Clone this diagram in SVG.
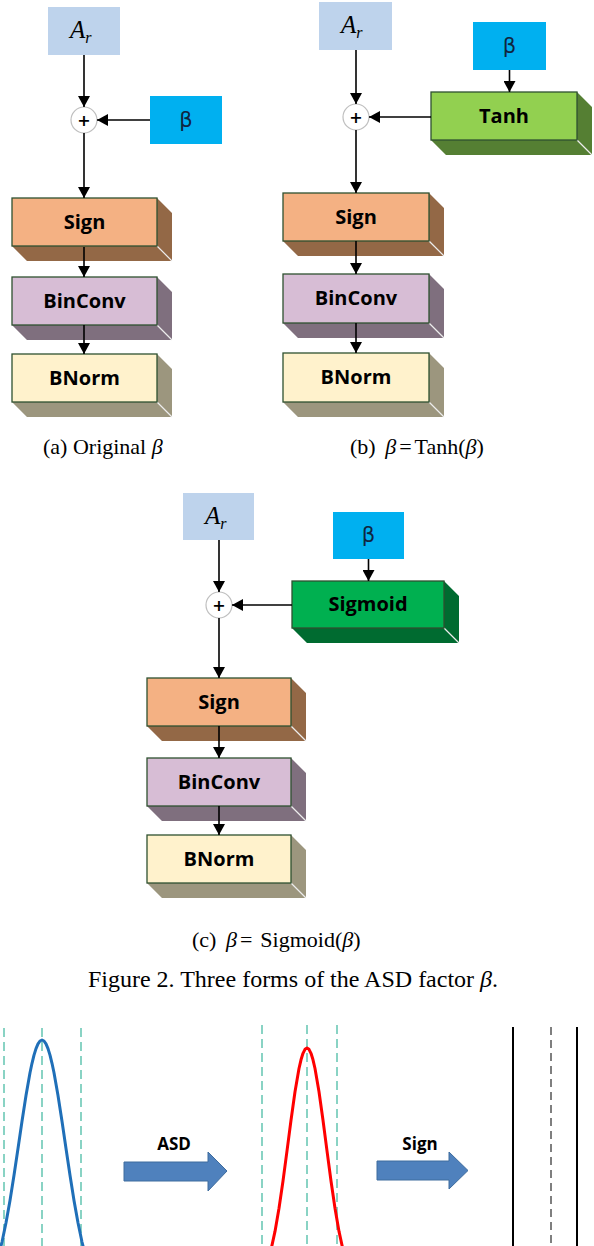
<svg xmlns="http://www.w3.org/2000/svg" width="594" height="1246" viewBox="0 0 594 1246">
<defs>
<style>
.face{stroke:#2F5130;stroke-width:1.3}
.hl{stroke:#EDEDED;stroke-width:1.2}
.sign-f{fill:#F4B183}.sign-s{fill:#936846}
.bin-f{fill:#D7BDD5}.bin-s{fill:#7F6F7E}
.bn-f{fill:#FFF2CC}.bn-s{fill:#9C967E}
.tanh-f{fill:#92D050}.tanh-s{fill:#557F33}
.sig-f{fill:#00B050}.sig-s{fill:#006B30}
.ar{fill:#BED3EC}
.beta{fill:#00B0F0}
.lbl{font-family:"Open Sans","Noto Sans",sans-serif;font-weight:700;font-size:20px;fill:#000;text-anchor:middle}
.bt{font-family:"DejaVu Sans","Noto Sans",sans-serif;font-size:21px;fill:#10253F;text-anchor:middle}
.ai{font-family:"Liberation Serif",serif;font-style:italic;fill:#000}
.sum circle{fill:#fff;stroke:#BFBFBF;stroke-width:1.2}
.plus{font-family:"DejaVu Sans",sans-serif;font-weight:700;font-size:16px;text-anchor:middle;fill:#000}
.cap{font-family:"Liberation Serif",serif;fill:#000}
.conn line{stroke:#000;stroke-width:1.6;marker-end:url(#ah)}
.dash{stroke:#7DCFBE;stroke-width:1.8;stroke-dasharray:9 5;fill:none}
.barrow{fill:#4F81BD;stroke:#3E6C9E;stroke-width:1}
.al{font-family:"Open Sans","Noto Sans",sans-serif;font-weight:700;font-size:17px;text-anchor:middle;fill:#000}
</style>
<marker id="ah" markerWidth="11" markerHeight="12" refX="11" refY="6" orient="auto" markerUnits="userSpaceOnUse">
<path d="M0,0 L11,6 L0,12 Z" fill="#000"/>
</marker>
</defs>

<!-- Panel (a) -->
<g id="a-Ar"><rect class="ar" x="48" y="7" width="72" height="48"/><text class="ai" x="70" y="38" font-size="25">A<tspan font-size="16" dy="5">r</tspan></text></g>
<g id="a-sum" class="sum"><circle cx="84" cy="120" r="13"/><text class="plus" x="84" y="126">+</text></g>
<g id="a-beta"><rect class="beta" x="150" y="96" width="72" height="48"/><text class="bt" x="186" y="127">β</text></g>
<g id="a-sign" transform="translate(12,198)"><polygon class="sign-s" points="0,48 145,48 145,0 160,15 160,63 15,63"/><line class="hl" x1="145" y1="48" x2="160" y2="63"/><rect class="sign-f face" width="145" height="48"/><text class="lbl" x="72.5" y="31">Sign</text></g>
<g id="a-binconv" transform="translate(12,277)"><polygon class="bin-s" points="0,48 145,48 145,0 160,15 160,63 15,63"/><line class="hl" x1="145" y1="48" x2="160" y2="63"/><rect class="bin-f face" width="145" height="48"/><text class="lbl" x="72.5" y="31">BinConv</text></g>
<g id="a-bnorm" transform="translate(12,354)"><polygon class="bn-s" points="0,48 145,48 145,0 160,15 160,63 15,63"/><line class="hl" x1="145" y1="48" x2="160" y2="63"/><rect class="bn-f face" width="145" height="48"/><text class="lbl" x="72.5" y="31">BNorm</text></g>
<g id="cap-a"><text class="cap" x="43" y="454" style="font-size:22px">(a) Original <tspan font-style="italic">β</tspan></text></g>

<!-- Panel (b) -->
<g id="b-Ar"><rect class="ar" x="319" y="2" width="73" height="48"/><text class="ai" x="341" y="33" font-size="25">A<tspan font-size="16" dy="5">r</tspan></text></g>
<g id="b-sum" class="sum"><circle cx="356" cy="117" r="13"/><text class="plus" x="356" y="123">+</text></g>
<g id="b-beta"><rect class="beta" x="473" y="22" width="73" height="48"/><text class="bt" x="509.5" y="53">β</text></g>
<g id="b-tanh" transform="translate(431,92)"><polygon class="tanh-s" points="0,48 146,48 146,0 161,15 161,63 15,63"/><line class="hl" x1="146" y1="48" x2="161" y2="63"/><rect class="tanh-f face" width="146" height="48"/><text class="lbl" x="73" y="31">Tanh</text></g>
<g id="b-sign" transform="translate(283,193)"><polygon class="sign-s" points="0,48 146,48 146,0 161,15 161,63 15,63"/><line class="hl" x1="146" y1="48" x2="161" y2="63"/><rect class="sign-f face" width="146" height="48"/><text class="lbl" x="73" y="31">Sign</text></g>
<g id="b-binconv" transform="translate(283,274)"><polygon class="bin-s" points="0,49 146,49 146,0 161,15 161,64 15,64"/><line class="hl" x1="146" y1="49" x2="161" y2="64"/><rect class="bin-f face" width="146" height="49"/><text class="lbl" x="73" y="31">BinConv</text></g>
<g id="b-bnorm" transform="translate(283,353)"><polygon class="bn-s" points="0,49 146,49 146,0 161,15 161,64 15,64"/><line class="hl" x1="146" y1="49" x2="161" y2="64"/><rect class="bn-f face" width="146" height="49"/><text class="lbl" x="73" y="31">BNorm</text></g>
<g id="cap-b"><text class="cap" x="350" y="454" style="font-size:22px">(b) <tspan font-style="italic" dx="4">β</tspan><tspan dx="3">=</tspan><tspan dx="3">Tanh(</tspan><tspan font-style="italic">β</tspan>)</text></g>

<!-- Panel (c) -->
<g id="c-Ar"><rect class="ar" x="183" y="493" width="71" height="47"/><text class="ai" x="205" y="524" font-size="25">A<tspan font-size="16" dy="5">r</tspan></text></g>
<g id="c-sum" class="sum"><circle cx="219" cy="605" r="13"/><text class="plus" x="219" y="611">+</text></g>
<g id="c-beta"><rect class="beta" x="333" y="512" width="71" height="47"/><text class="bt" x="368.5" y="542">β</text></g>
<g id="c-sigmoid" transform="translate(292,581)"><polygon class="sig-s" points="0,47 152,47 152,0 167,15 167,62 15,62"/><line class="hl" x1="152" y1="47" x2="167" y2="62"/><rect class="sig-f face" width="152" height="47"/><text class="lbl" x="76" y="30">Sigmoid</text></g>
<g id="c-sign" transform="translate(147,678)"><polygon class="sign-s" points="0,48 144,48 144,0 159,15 159,63 15,63"/><line class="hl" x1="144" y1="48" x2="159" y2="63"/><rect class="sign-f face" width="144" height="48"/><text class="lbl" x="72" y="31">Sign</text></g>
<g id="c-binconv" transform="translate(147,758)"><polygon class="bin-s" points="0,48 144,48 144,0 159,15 159,63 15,63"/><line class="hl" x1="144" y1="48" x2="159" y2="63"/><rect class="bin-f face" width="144" height="48"/><text class="lbl" x="72" y="31">BinConv</text></g>
<g id="c-bnorm" transform="translate(147,835)"><polygon class="bn-s" points="0,48 144,48 144,0 159,15 159,63 15,63"/><line class="hl" x1="144" y1="48" x2="159" y2="63"/><rect class="bn-f face" width="144" height="48"/><text class="lbl" x="72" y="31">BNorm</text></g>
<g id="cap-c"><text class="cap" x="192" y="947" style="font-size:22px">(c) <tspan font-style="italic" dx="4">β</tspan><tspan dx="3">=</tspan><tspan dx="8">Sigmoid(</tspan><tspan font-style="italic">β</tspan>)</text></g>
<g id="fig-caption"><text class="cap" x="293" y="987" style="font-size:24px" text-anchor="middle">Figure 2. Three forms of the ASD factor <tspan font-style="italic">β</tspan>.</text></g>

<!-- Connectors -->
<g id="connectors" class="conn">
<line x1="84" y1="55" x2="84" y2="107"/>
<line x1="150" y1="120" x2="97" y2="120"/>
<line x1="84" y1="133" x2="84" y2="198"/>
<line x1="84" y1="247" x2="84" y2="277"/>
<line x1="84" y1="325" x2="84" y2="354"/>
<line x1="356" y1="50" x2="356" y2="104"/>
<line x1="509.5" y1="70" x2="509.5" y2="92"/>
<line x1="431" y1="117" x2="369" y2="117"/>
<line x1="356" y1="130" x2="356" y2="193"/>
<line x1="356" y1="241" x2="356" y2="274"/>
<line x1="356" y1="323" x2="356" y2="353"/>
<line x1="219" y1="540" x2="219" y2="592"/>
<line x1="368.5" y1="559" x2="368.5" y2="581"/>
<line x1="292" y1="605" x2="232" y2="605"/>
<line x1="219" y1="618" x2="219" y2="678"/>
<line x1="219" y1="726" x2="219" y2="758"/>
<line x1="219" y1="806" x2="219" y2="835"/>
</g>

<!-- Bottom distributions -->
<g id="dist-original">
<line class="dash" x1="4" y1="1028" x2="4" y2="1246"/>
<line class="dash" x1="42" y1="1028" x2="42" y2="1246"/>
<line class="dash" x1="81" y1="1028" x2="81" y2="1246"/>
<polyline fill="none" stroke="#1F6FB8" stroke-width="3" stroke-linejoin="round" points="-2,1257.6 2,1242 6,1222.8 10,1200.4 14,1175.3 18,1148.5 22,1121.3 26,1095.5 30,1072.8 32,1063.3 34,1055.1 36,1048.6 38,1043.9 40,1041 42,1040 44,1041 46,1043.9 48,1048.6 50,1055.1 52,1063.3 54,1072.8 58,1095.5 62,1121.3 66,1148.5 70,1175.3 74,1200.4 78,1222.8 82,1242 86,1257.6"/>
</g>
<g id="arrow-asd">
<path class="barrow" d="M124,1162 L208,1162 L208,1152 L227,1171 L208,1191 L208,1181 L124,1181 Z"/>
<text class="al" x="174" y="1150">ASD</text>
</g>
<g id="dist-asd">
<line class="dash" x1="262" y1="1025" x2="262" y2="1246"/>
<line class="dash" x1="307" y1="1025" x2="307" y2="1246"/>
<line class="dash" x1="337" y1="1025" x2="337" y2="1246"/>
<polyline fill="none" stroke="#FF0000" stroke-width="3" stroke-linejoin="round" points="267,1263.6 271,1249.8 275,1231.4 279,1208.3 283,1181 287,1150.9 291,1120.3 295,1091.8 299,1068.5 301,1059.8 303,1053.3 305,1049.3 307,1048 309,1049.3 311,1053.3 313,1059.8 315,1068.5 319,1091.8 323,1120.3 327,1150.9 331,1181 335,1208.3 339,1231.4 343,1249.8 347,1263.6"/>
</g>
<g id="arrow-sign">
<path class="barrow" d="M377,1161 L449,1161 L449,1152 L468,1170.5 L449,1189 L449,1180 L377,1180 Z"/>
<text class="al" x="420" y="1150">Sign</text>
</g>
<g id="dist-binary">
<line x1="513" y1="1027" x2="513" y2="1246" stroke="#000" stroke-width="2"/>
<line x1="551" y1="1027" x2="551" y2="1246" stroke="#7F7F7F" stroke-width="2" stroke-dasharray="8 5"/>
<line x1="577" y1="1027" x2="577" y2="1246" stroke="#000" stroke-width="2"/>
</g>
</svg>
